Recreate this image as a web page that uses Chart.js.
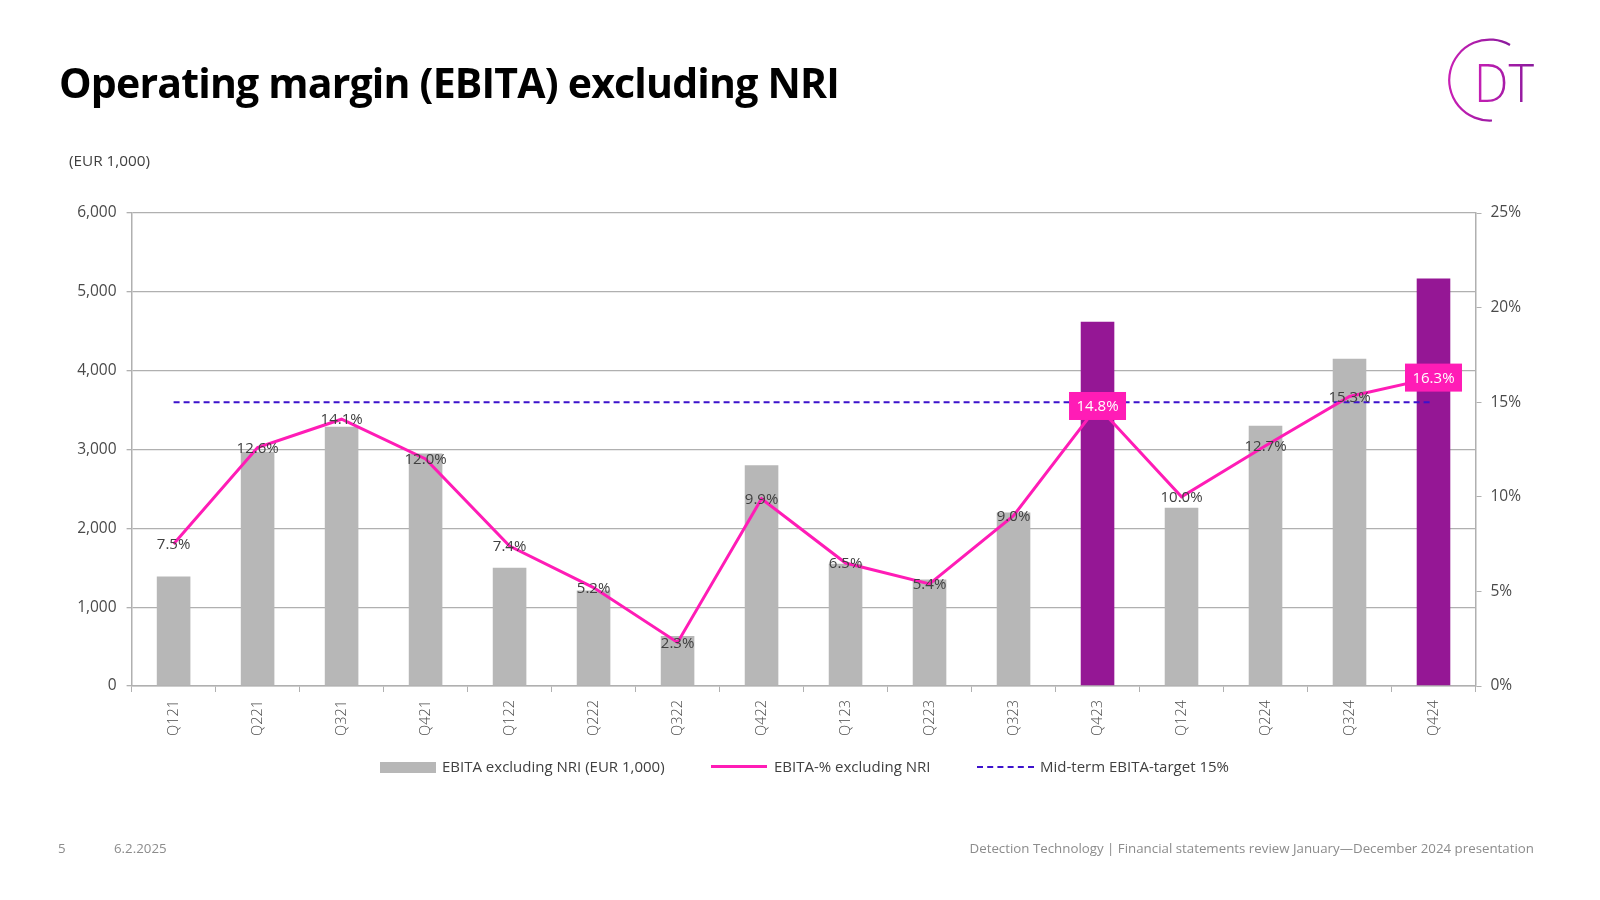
<!DOCTYPE html>
<html>
<head>
<meta charset="utf-8">
<script src="https://cdn.jsdelivr.net/npm/chart.js@4.4.1/dist/chart.umd.min.js"></script>
<style>
  body { margin: 0; background: #fff; font-family: "Open Sans", sans-serif; }
  #page { position: relative; width: 1600px; height: 900px; overflow: hidden; }
  #wrap { position: absolute; left: 0; top: 0; width: 1600px; height: 900px; }
  .abs { position: absolute; white-space: nowrap; }
  h1 { position: absolute; left: 59px; top: 54px; margin: 0; font-size: 41px; font-weight: 700; color: #000; letter-spacing: -0.8px; }
  .legend { position: absolute; top: 756px; font-size: 15px; color: #404040; line-height: 20px; }
  .foot { position: absolute; top: 839px; font-size: 13.3px; color: #8c8c8c; }
</style>
</head>
<body>
<div id="page">
  <div id="wrap"><canvas id="marginChart" width="1600" height="900"></canvas></div>
  <h1>Operating margin (EBITA) excluding NRI</h1>
  <svg class="abs" style="left:1440px;top:36px" width="110" height="95" viewBox="0 0 110 95">
    <defs>
      <linearGradient id="lg" x1="0" x2="1" y1="0" y2="0">
        <stop offset="0" stop-color="#c81fb4"/>
        <stop offset="1" stop-color="#8a1a9c"/>
      </linearGradient>
    </defs>
    <path d="M70 9 A40.5 40.5 0 1 0 52 84.5" fill="none" stroke="url(#lg)" stroke-width="2.2"/>
    <text x="34" y="66" font-family="Open Sans" font-weight="300" font-size="54" fill="url(#lg)" textLength="60" lengthAdjust="spacingAndGlyphs">DT</text>
  </svg>
  <div class="abs" style="left:69px;top:150px;font-size:15.3px;color:#404040">(EUR 1,000)</div>

  <div class="legend" style="left:380px"><span style="display:inline-block;width:56px;height:11px;background:#b7b7b7;vertical-align:-1px"></span></div>
  <div class="legend" style="left:442px">EBITA excluding NRI (EUR 1,000)</div>
  <div class="legend" style="left:711px"><span style="display:inline-block;width:56px;height:0;border-top:3px solid #ff1cb6;vertical-align:4px"></span></div>
  <div class="legend" style="left:774px">EBITA-% excluding NRI</div>
  <div class="legend" style="left:977px"><span style="display:inline-block;width:57px;height:0;border-top:2px dashed #3d12cc;vertical-align:4px"></span></div>
  <div class="legend" style="left:1040px">Mid-term EBITA-target 15%</div>

  <div class="foot" style="left:58px">5</div>
  <div class="foot" style="left:114px">6.2.2025</div>
  <div class="foot" style="right:66px">Detection Technology | Financial statements review January—December 2024 presentation</div>
</div>
<script>
// --- data ---
const quarters = ["Q121", "Q221", "Q321", "Q421", "Q122", "Q222", "Q322", "Q422",
                  "Q123", "Q223", "Q323", "Q423", "Q124", "Q224", "Q324", "Q424"];
const ebita = [1390, 2970, 3290, 2950, 1500, 1210, 635, 2800,
               1550, 1350, 2200, 4620, 2260, 3300, 4150, 5170];
const ebitaPct = [7.5, 12.6, 14.1, 12.0, 7.4, 5.2, 2.3, 9.9,
                  6.5, 5.4, 9.0, 14.8, 10.0, 12.7, 15.3, 16.3];
const target = [15, 15, 15, 15, 15, 15, 15, 15, 15, 15, 15, 15, 15, 15, 15, 15];
const highlighted = ["Q423", "Q424"];
const leftTicks = [0, 1000, 2000, 3000, 4000, 5000, 6000];
const rightTicks = [0, 5, 10, 15, 20, 25];

const GREY = "#b7b7b7", PURPLE = "#951795", PINK = "#ff1cb6", BLUE = "#3d12cc";
const GRID = "#b0b0b0", TXT = "#4a4a4a";

// 数値ラベル
const pctLabels = {
  id: "pctLabels",
  afterDatasetsDraw(chart) {
    const ctx = chart.ctx;
    const meta = chart.getDatasetMeta(1);
    ctx.save();
    ctx.font = '15px "Open Sans"';
    ctx.textAlign = "center";
    ctx.textBaseline = "middle";
    meta.data.forEach((pt, i) => {
      const txt = ebitaPct[i].toFixed(1) + "%";
      if (highlighted.includes(quarters[i])) {
        ctx.fillStyle = PINK;
        ctx.fillRect(pt.x - 28.5, pt.y - 14, 57, 28);
        ctx.fillStyle = "#fff";
      } else {
        ctx.fillStyle = "#404040";
      }
      ctx.fillText(txt, pt.x, pt.y + 1);
    });
    ctx.restore();
  }
};

const ctx = document.getElementById("marginChart").getContext("2d");
new Chart(ctx, {
  data: {
    labels: quarters,
    datasets: [
      {
        type: "bar",
        label: "EBITA excluding NRI (EUR 1,000)",
        data: ebita,
        backgroundColor: quarters.map(q => highlighted.includes(q) ? PURPLE : GREY),
        barPercentage: 0.4,
        categoryPercentage: 1,
        yAxisID: "y",
        order: 3,
      },
      {
        type: "line",
        label: "EBITA-% excluding NRI",
        data: ebitaPct,
        borderColor: PINK,
        borderWidth: 3,
        pointRadius: 0,
        tension: 0,
        yAxisID: "y1",
        order: 1,
      },
      {
        type: "line",
        label: "Mid-term EBITA-target 15%",
        data: target,
        borderColor: BLUE,
        borderWidth: 2,
        borderDash: [6, 4],
        pointRadius: 0,
        yAxisID: "y1",
        order: 2,
      },
    ]
  },
  options: {
    responsive: false,
    animation: false,
    layout: { padding: { top: 213, left: 0, right: 0, bottom: 0 } },
    plugins: { legend: { display: false }, tooltip: { enabled: false } },
    scales: {
      x: {
        offset: true,
        grid: { offset: true, drawOnChartArea: false, drawTicks: true, tickLength: 6, color: GRID },
        border: { color: GRID, width: 1.5 },
        ticks: { minRotation: 90, maxRotation: 90, padding: 8, color: TXT, font: { family: "Open Sans", size: 14.5, weight: 300 } },
        afterFit(s) { s.height = 214; },
      },
      y: {
        position: "left",
        min: 0, max: 6000,
        afterBuildTicks(s) { s.ticks = leftTicks.map(v => ({ value: v })); },
        grid: { color: GRID, lineWidth: 1.3, tickLength: 5 },
        border: { color: GRID, width: 1.5 },
        ticks: { padding: 10, color: TXT, font: { family: "Open Sans", size: 15.5 },
                 callback: v => v.toLocaleString("en-US") },
        afterFit(s) { s.width = 131.6; },
      },
      y1: {
        position: "right",
        min: 0, max: 25,
        afterBuildTicks(s) { s.ticks = rightTicks.map(v => ({ value: v })); },
        grid: { drawOnChartArea: false, color: GRID, tickLength: 6 },
        border: { color: GRID, width: 1.5 },
        ticks: { padding: 9, color: TXT, font: { family: "Open Sans", size: 15.5 },
                 callback: v => v + "%" },
        afterFit(s) { s.width = 124.5; },
      },
    },
  },
  plugins: [pctLabels],
});
</script>
</body>
</html>
